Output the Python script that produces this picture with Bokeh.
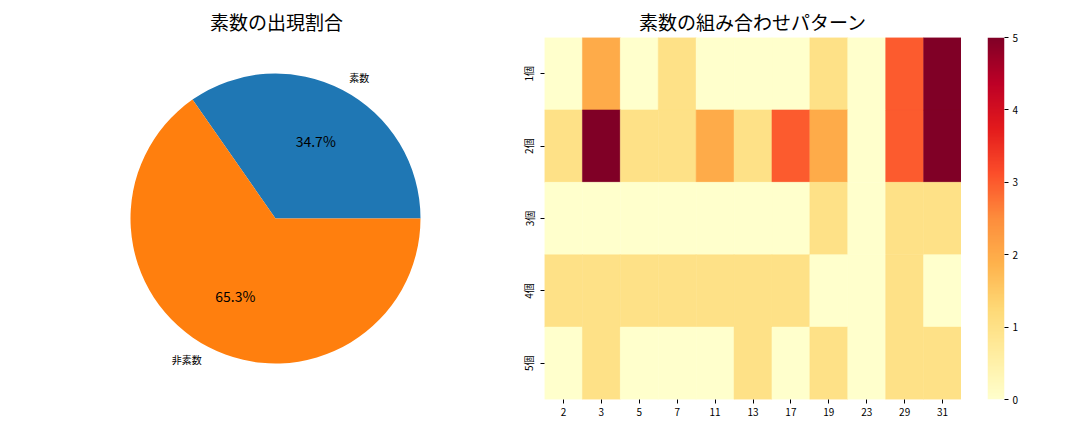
import numpy as np
from bokeh.plotting import figure
from bokeh.layouts import row
from bokeh.models import Range1d, FactorRange, LinearColorMapper, FixedTicker, ColumnDataSource
from bokeh.transform import transform
from bokeh.core.properties import value
from bokeh.palettes import YlOrRd9
from bokeh.embed import file_html
from bokeh.resources import INLINE

FONT = "Noto Sans CJK JP"

# ---- data ----
pie_labels = ["素数", "非素数"]
pie_shares = [34.7, 65.3]
pie_colors = ["#1f77b4", "#ff7f0e"]

primes = ["2", "3", "5", "7", "11", "13", "17", "19", "23", "29", "31"]
row_labels = ["1個", "2個", "3個", "4個", "5個"]
counts = [
    [0, 2, 0, 1, 0, 0, 0, 1, 0, 3, 5],
    [1, 5, 1, 1, 2, 1, 3, 2, 0, 3, 5],
    [0, 0, 0, 0, 0, 0, 0, 1, 0, 1, 1],
    [1, 1, 1, 1, 1, 1, 1, 0, 0, 1, 0],
    [0, 1, 0, 0, 0, 1, 0, 1, 0, 1, 1],
]
cbar_ticks = [0, 1, 2, 3, 4, 5]


def style_title(p, text):
    p.title.text = text
    p.title.align = "center"
    p.title.text_font = FONT
    p.title.text_font_size = "19px"
    p.title.text_font_style = "normal"
    p.title.text_color = "black"
    p.title.standoff = 5


# ---- pie ----
R = 145
p1 = figure(frame_width=484, frame_height=362, x_range=Range1d(-241, 243), y_range=Range1d(-181, 181),
            output_backend="svg", toolbar_location=None, min_border=0, min_border_left=34,
            min_border_top=37, x_axis_location=None, y_axis_location=None)
style_title(p1, "素数の出現割合")
p1.grid.visible = False
p1.outline_line_color = None

fr = np.array(pie_shares) / sum(pie_shares)
ends = np.cumsum(fr) * 2 * np.pi
starts = np.concatenate([[0], ends[:-1]])
mids = (starts + ends) / 2
src = ColumnDataSource(dict(start=starts, end=ends, color=pie_colors))
p1.wedge(x=0, y=0, radius=R, start_angle="start", end_angle="end", direction="anticlock",
         fill_color="color", line_color=None, source=src)

for lab, m, f in zip(pie_labels, mids, fr):
    lx, ly = 1.1 * R * np.cos(m), 1.1 * R * np.sin(m)
    p1.text(x=[lx], y=[ly], text=[lab], text_align="left" if lx > 0 else "right",
            text_baseline="middle", text_font=value(FONT), text_font_size="10px", text_color="black")
    px, py = 0.6 * R * np.cos(m), 0.6 * R * np.sin(m)
    p1.text(x=[px], y=[py], text=["%.1f%%" % (f * 100)], text_align="center",
            text_baseline="middle", text_font=value(FONT), text_font_size="14px", text_color="black")

# ---- heatmap ----
ys = list(reversed(row_labels))
p2 = figure(x_range=FactorRange(*primes), y_range=FactorRange(*ys),
            output_backend="svg", toolbar_location=None,
            frame_width=417, frame_height=362, min_border_left=26, min_border_top=37,
            min_border_bottom=25, min_border_right=0)
style_title(p2, "素数の組み合わせパターン")
p2.grid.visible = False
p2.outline_line_color = None

xs, yv, vals = [], [], []
for i, r in enumerate(row_labels):
    for j, c in enumerate(primes):
        xs.append(c); yv.append(r); vals.append(counts[i][j])

# YlOrRd 256 colors
anchors = [tuple(int(h[k:k + 2], 16) for k in (1, 3, 5)) for h in reversed(YlOrRd9)]
anchors = np.array(anchors, dtype=float)
t = np.linspace(0, 1, 256)
pos = np.linspace(0, 1, len(anchors))
pal = []
for tt in t:
    rgb = [np.interp(tt, pos, anchors[:, k]) for k in range(3)]
    pal.append("#%02x%02x%02x" % tuple(int(round(v)) for v in rgb))
lo, hi = min(cbar_ticks), max(cbar_ticks)
mapper = LinearColorMapper(palette=pal, low=lo, high=hi)

hsrc = ColumnDataSource(dict(x=xs, y=yv, v=vals))
p2.rect(x="x", y="y", width=1, height=1, source=hsrc,
        fill_color=transform("v", mapper), line_color=transform("v", mapper), line_width=0.5)


def style_axis(ax):
    ax.axis_line_color = None
    ax.major_tick_in = 0
    ax.major_tick_out = 4
    ax.major_tick_line_color = "black"
    ax.minor_tick_line_color = None
    ax.major_label_text_font = FONT
    ax.major_label_text_font_size = "10px"
    ax.major_label_text_color = "black"
    ax.major_label_standoff = 4


style_axis(p2.xaxis[0])
style_axis(p2.yaxis[0])
p2.yaxis.major_label_orientation = "vertical"

# ---- colorbar as its own small figure ----
p3 = figure(frame_width=17, frame_height=362, x_range=Range1d(0, 1), y_range=Range1d(lo, hi),
            output_backend="svg", toolbar_location=None, min_border_left=26, min_border_right=20,
            min_border_top=37, min_border_bottom=25, x_axis_location=None, y_axis_location="right")
p3.grid.visible = False
p3.outline_line_color = None
grad = np.linspace(lo, hi, 512).reshape(-1, 1)
p3.image(image=[grad], x=0, y=lo, dw=1, dh=hi - lo, color_mapper=mapper)
p3.yaxis.ticker = FixedTicker(ticks=cbar_ticks)
style_axis(p3.yaxis[0])

layout = row(p1, p2, p3)
open("out.html", "w").write(file_html(layout, INLINE))
